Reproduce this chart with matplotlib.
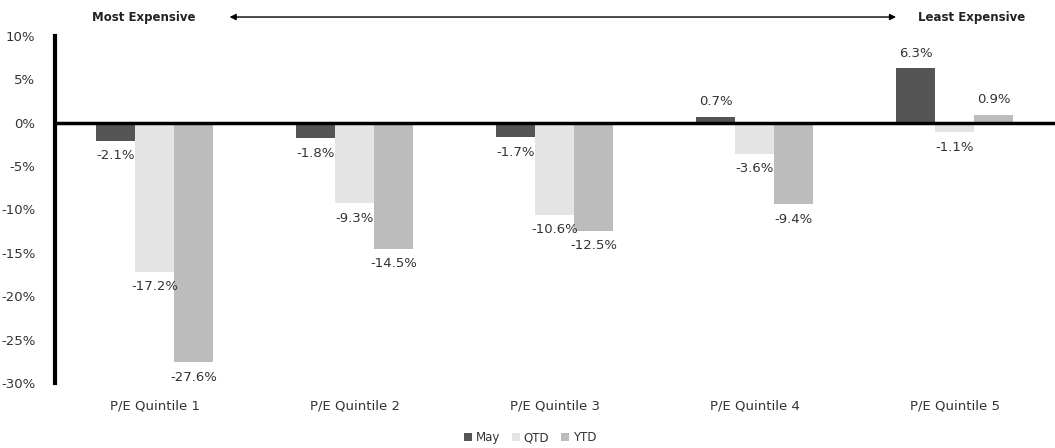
import matplotlib.pyplot as plt
import numpy as np

plt.rcParams['font.family'] = ['DejaVu Sans']

categories = ['P/E Quintile 1', 'P/E Quintile 2', 'P/E Quintile 3', 'P/E Quintile 4', 'P/E Quintile 5']
may = [-2.1, -1.8, -1.7, 0.7, 6.3]
qtd = [-17.2, -9.3, -10.6, -3.6, -1.1]
ytd = [-27.6, -14.5, -12.5, -9.4, 0.9]
series_names = ['May', 'QTD', 'YTD']
colors = ['#555555', '#e4e4e4', '#bcbcbc']
yticks = [10, 5, 0, -5, -10, -15, -20, -25, -30]

fig = plt.figure(figsize=(10.55, 4.48), dpi=100)
ax = fig.add_axes([0.052, 0.145, 0.948, 0.775])

x = np.arange(len(categories))
w = 0.195
txt = '#333333'
fs = 9.5
for i, (vals, name, c) in enumerate(zip([may, qtd, ytd], series_names, colors)):
    xs = x + (i - 1) * w
    ax.bar(xs, vals, w, color=c, label=name, zorder=2)
    for xi, v in zip(xs, vals):
        if v >= 0:
            ax.annotate('%.1f%%' % v, (xi, v), xytext=(0, 6), textcoords='offset points',
                        ha='center', va='bottom', fontsize=fs, color=txt)
        else:
            ax.annotate('%.1f%%' % v, (xi, v), xytext=(0, -6), textcoords='offset points',
                        ha='center', va='top', fontsize=fs, color=txt)

ax.set_xlim(-0.5, 4.5)
ax.set_ylim(-30, 10)
ax.set_yticks(yticks)
ax.set_yticklabels(['%d%%' % t for t in yticks], fontsize=fs, color=txt)
ax.set_xticks(x)
ax.set_xticklabels(categories, fontsize=fs, color=txt)
ax.tick_params(axis='both', length=0)
ax.tick_params(axis='y', pad=14)
ax.tick_params(axis='x', pad=12)

for s in ['top', 'right', 'bottom']:
    ax.spines[s].set_visible(False)
ax.spines['left'].set_linewidth(3)
ax.spines['left'].set_color('black')
ax.axhline(0, color='black', linewidth=2.5, zorder=3)

fig.text(0.087, 0.962, 'Most Expensive', fontsize=8.5, fontweight='bold', color='#222222', va='center')
fig.text(0.870, 0.962, 'Least Expensive', fontsize=8.5, fontweight='bold', color='#222222', va='center')
fig.patches.append(plt.matplotlib.patches.FancyArrowPatch(
    (0.215, 0.962), (0.852, 0.962), transform=fig.transFigure,
    arrowstyle='<|-|>', mutation_scale=9, color='black', linewidth=1))

ax.legend(loc='center', bbox_to_anchor=(0.475, -0.157), ncol=3, frameon=False,
          fontsize=8.5, handlelength=0.7, handleheight=0.7, handletextpad=0.3,
          columnspacing=1.0, labelcolor=txt)

fig.savefig('out.png', dpi=100)
